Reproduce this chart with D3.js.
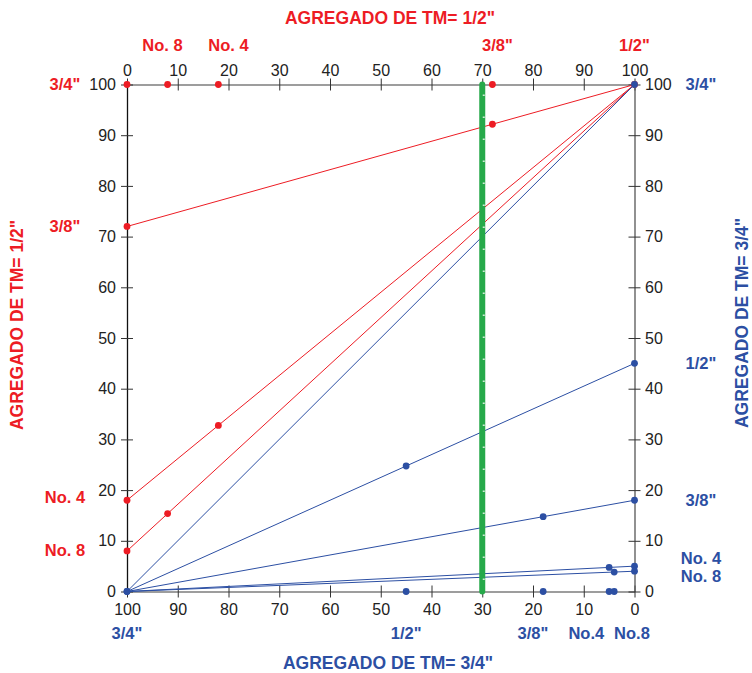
<!DOCTYPE html>
<html>
<head>
<meta charset="utf-8">
<script src="https://cdn.jsdelivr.net/npm/d3@7"></script>
<style>
  html, body { margin: 0; padding: 0; background: #fff; }
  svg { display: block; font-family: "Liberation Sans", Arial, sans-serif; }
</style>
</head>
<body>
<svg id="chart" width="752" height="673"></svg>
<script>
// ---- data ----
const sieves = ["3/4\"", "1/2\"", "3/8\"", "No. 4", "No. 8"];
const passing12 = [100, 100, 72, 18, 8];   // Agregado TM = 1/2" (% passing)
const passing34 = [100, 45, 18, 5, 4];     // Agregado TM = 3/4" (% passing)
const blendPoint = 70;                     // % of 1/2" aggregate (top scale)
const tickValues = [0, 10, 20, 30, 40, 50, 60, 70, 80, 90, 100];

// label anchors (in axis units)
const topLabels = [["No. 8", 7], ["No. 4", 20], ["3/8\"", 73], ["1/2\"", 100]];
const leftLabels = [["3/4\"", 100], ["3/8\"", 72], ["No. 4", 18.6], ["No. 8", 8.2]];
const rightLabels = [["3/4\"", 100], ["1/2\"", 45], ["3/8\"", 18], ["No. 4", 6.6], ["No. 8", 3.1]];
const bottomLabels = [["3/4\"", 100], ["1/2\"", 45], ["3/8\"", 20], ["No.4", 9.5], ["No.8", 0.5]];

const titleTop = "AGREGADO DE TM= 1/2\"";
const titleBottom = "AGREGADO DE TM= 3/4\"";

// ---- styles ----
const RED = "#ed1c24", BLUE = "#2c4fa3", GREEN = "#26a94a";

const svg = d3.select("#chart");
const L = 127, R = 634.5, T = 84.5, B = 591.5;
const x = d3.scaleLinear().domain([0, 100]).range([L, R]);
const xb = d3.scaleLinear().domain([100, 0]).range([L, R]);
const y = d3.scaleLinear().domain([0, 100]).range([B, T]);

function styleAxis(g, lineColor, orient) {
  g.select(".domain").attr("stroke", lineColor).attr("stroke-width", 1.3);
  g.selectAll(".tick line").attr("stroke", "#333").attr("stroke-width", 1);
  g.selectAll(".tick text").attr("fill", "#222").style("font-size", "16px");
  if (orient === "h") g.selectAll(".tick line").attr("y1", -6).attr("y2", 6);
  else g.selectAll(".tick line").attr("x1", -6).attr("x2", 6);
  g.attr("font-family", null).attr("font-size", null);
}

// axes
svg.append("g").attr("transform", `translate(0,${T})`)
  .call(d3.axisTop(x).tickValues(tickValues).tickSizeInner(6).tickSizeOuter(0).tickPadding(3))
  .call(g => styleAxis(g, "#7d7d7d", "h"));
svg.append("g").attr("transform", `translate(0,${B})`)
  .call(d3.axisBottom(xb).tickValues(tickValues).tickSizeInner(6).tickSizeOuter(0).tickPadding(6.5))
  .call(g => styleAxis(g, "#7d7d7d", "h"));
svg.append("g").attr("transform", `translate(${L},0)`)
  .call(d3.axisLeft(y).tickValues(tickValues).tickSizeInner(6).tickSizeOuter(0).tickPadding(5))
  .call(g => styleAxis(g, "#111", "v"));
svg.append("g").attr("transform", `translate(${R},0)`)
  .call(d3.axisRight(y).tickValues(tickValues).tickSizeInner(6).tickSizeOuter(0).tickPadding(4.5))
  .call(g => styleAxis(g, "#555", "v"));

// ---- red lines (Agregado 1/2") ----
const redIdx = d3.range(sieves.length).filter(i => passing12[i] < 100);
const redLineY = i => passing12[i] + (100 - passing12[i]) * passing12[i] / 100;
svg.append("g").selectAll("line").data(redIdx).join("line")
  .attr("x1", x(0)).attr("y1", i => y(passing12[i]))
  .attr("x2", x(100)).attr("y2", y(100))
  .attr("stroke", RED).attr("stroke-width", 1);

// ---- blue lines (Agregado 3/4") ----
const blueIdx = d3.range(sieves.length);
svg.append("g").selectAll("line").data(blueIdx).join("line")
  .attr("x1", x(0)).attr("y1", y(0))
  .attr("x2", x(100)).attr("y2", i => y(passing34[i]))
  .attr("stroke", BLUE).attr("stroke-width", 1);

// ---- green blend line ----
svg.append("line")
  .attr("x1", x(blendPoint)).attr("x2", x(blendPoint))
  .attr("y1", y(100)).attr("y2", y(0))
  .attr("stroke", GREEN).attr("stroke-width", 6)
  .attr("stroke-linecap", "round");
svg.append("line")
  .attr("x1", x(blendPoint) + 1.5).attr("x2", x(blendPoint) + 1.5)
  .attr("y1", y(100) + 10).attr("y2", y(0))
  .attr("stroke", "#cfe9d5").attr("stroke-width", 2)
  .attr("stroke-dasharray", "1.5,20.5");

// ---- red dots ----
const redDots = [];
redDots.push([0, 100]);
redIdx.forEach(i => {
  redDots.push([0, passing12[i]]);
  redDots.push([passing12[i], redLineY(i)]);
  redDots.push([passing12[i], 100]);
});
redDots.push([100, 100]);
svg.append("g").selectAll("circle").data(redDots).join("circle")
  .attr("cx", d => x(d[0])).attr("cy", d => y(d[1])).attr("r", 3.4).attr("fill", RED);

// ---- blue dots ----
const blueDots = [];
blueIdx.forEach(i => {
  const b = passing34[i];
  blueDots.push([100, b]);                    // right axis
  blueDots.push([100 - b, b * (100 - b) / 100]); // on line
  blueDots.push([100 - b, 0]);                // bottom axis
});
svg.append("g").selectAll("circle").data(blueDots).join("circle")
  .attr("cx", d => x(d[0])).attr("cy", d => y(d[1])).attr("r", 3.4).attr("fill", BLUE);

// ---- labels ----
const lab = svg.append("g").attr("font-weight", "bold").style("font-size", "16.5px");
lab.selectAll(".tl").data(topLabels).join("text")
  .attr("x", d => x(d[1])).attr("y", 51).attr("text-anchor", "middle")
  .attr("fill", RED).text(d => d[0]);
lab.selectAll(".ll").data(leftLabels).join("text")
  .attr("x", 65).attr("y", d => y(d[1])).attr("dy", "0.36em").attr("text-anchor", "middle")
  .attr("fill", RED).text(d => d[0]);
lab.selectAll(".rl").data(rightLabels).join("text")
  .attr("x", 701).attr("y", d => y(d[1])).attr("dy", "0.36em").attr("text-anchor", "middle")
  .attr("fill", BLUE).text(d => d[0]);
lab.selectAll(".bl").data(bottomLabels).join("text")
  .attr("x", d => xb(d[1])).attr("y", 639).attr("text-anchor", "middle")
  .attr("fill", BLUE).text(d => d[0]);

// ---- titles ----
const tt = svg.append("g").attr("font-weight", "bold").style("font-size", "17.5px").attr("text-anchor", "middle");
tt.append("text").attr("x", 390).attr("y", 24).attr("fill", RED).text(titleTop);
tt.append("text").attr("x", 388).attr("y", 669).attr("fill", BLUE).text(titleBottom);
tt.append("text").attr("transform", "translate(23,325) rotate(-90)").attr("fill", RED).text(titleTop);
tt.append("text").attr("transform", "translate(748,323) rotate(-90)").attr("fill", BLUE).text(titleBottom);
</script>
</body>
</html>
